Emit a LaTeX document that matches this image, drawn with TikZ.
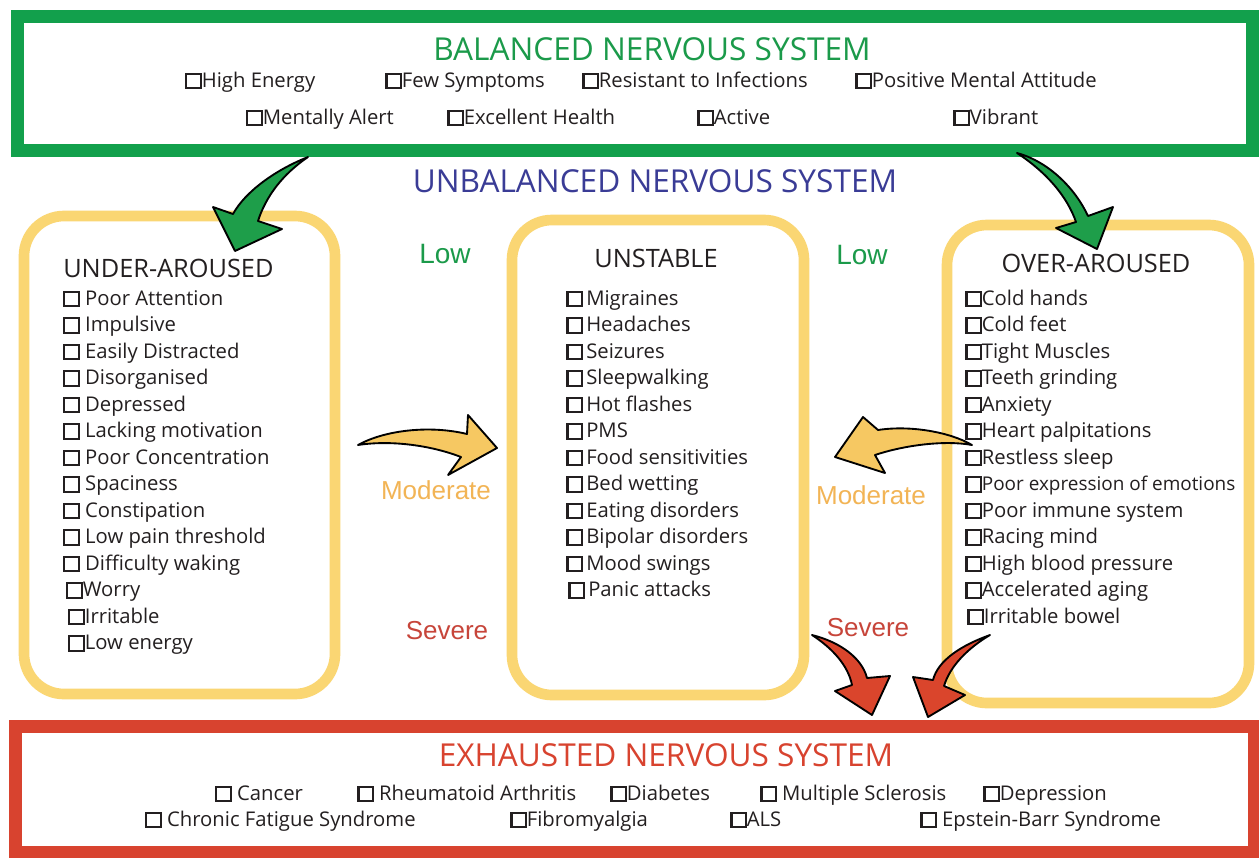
\documentclass[tikz,border=0pt]{standalone}
\usepackage{fontspec}
\setmainfont{Open Sans}
\newfontfamily\arialf{Liberation Sans}
\definecolor{gframe}{HTML}{12A04C}
\definecolor{gtext}{HTML}{1B9A4A}
\definecolor{btext}{HTML}{3A3C96}
\definecolor{yline}{HTML}{FAD673}
\definecolor{yfill}{HTML}{F6C862}
\definecolor{otext}{HTML}{F2B455}
\definecolor{rframe}{HTML}{D8432F}
\definecolor{rtext}{HTML}{C7453A}
\definecolor{rfill}{HTML}{DA452C}
\definecolor{gfill}{HTML}{1E9E4A}
\definecolor{ink}{HTML}{231F20}
\newcommand{\cbx}{{\fboxsep=0pt\fboxrule=0.11em\fbox{\rule{0pt}{0.6em}\hspace{0.6em}}}}
\tikzset{
  itm/.style={anchor=base west, inner sep=0pt, text=ink, font=\fontsize{15.2}{18}\selectfont},
  bigtitle/.style={anchor=base, inner sep=0pt, font=\fontsize{23.7}{27}\selectfont},
  boxtitle/.style={anchor=base, inner sep=0pt, text=ink, font=\fontsize{19}{22}\selectfont},
  lvl/.style={anchor=base, inner sep=0pt, font=\arialf\fontsize{19.5}{22}\selectfont},
  gfr/.style={draw=gframe, line width=9.75pt},
  rfr/.style={draw=rframe, line width=9.75pt},
  ybox/.style={draw=yline, line width=8pt, rounded corners=30pt},
  blockarrow/.style={draw=black, line width=1.4pt, line join=round},
}
\begin{document}
\begin{tikzpicture}[x=0.75pt,y=-0.75pt]
\useasboundingbox (0,0) rectangle (1259,857);
\fill[white] (0,0) rectangle (1259,857);
% frames
\draw[gfr] (17,16) rectangle (1252,150);
\draw[rfr] (15,726) rectangle (1254,852);
\draw[ybox] (24,216) rectangle (335,694);
\draw[ybox] (512,220) rectangle (804,695);
\draw[ybox] (947,225) rectangle (1249,703);

% titles
\node[bigtitle, text=gtext] (bal) at (652,60) {BALANCED NERVOUS SYSTEM};
\node[bigtitle, text=btext] (unbal) at (655,192) {UNBALANCED NERVOUS SYSTEM};
\node[bigtitle, text=rframe] (exh) at (666,766) {EXHAUSTED NERVOUS SYSTEM};

% balanced items
\node[itm] (b1) at (185,87) {\cbx High Energy};
\node[itm] (b2) at (385,87) {\cbx Few Symptoms};
\node[itm] (b3) at (582,87) {\cbx Resistant to Infections};
\node[itm] (b4) at (855,87) {\cbx Positive Mental Attitude};
\node[itm] (b5) at (246,124) {\cbx Mentally Alert};
\node[itm] (b6) at (447,124) {\cbx Excellent Health};
\node[itm] (b7) at (697,124) {\cbx Active};
\node[itm] (b8) at (953,124) {\cbx Vibrant};

% box titles
\node[boxtitle, anchor=base west] (under) at (63,277) {UNDER-AROUSED};
\node[boxtitle] (unst) at (656,267) {UNSTABLE};
\node[boxtitle] (over) at (1096,272) {OVER-AROUSED};

% under-aroused items
\foreach \x/\t [count=\i] in {63/\ Poor Attention, 63/\ Impulsive, 63/\ Easily Distracted, 63/\ Disorganised, 63/\ Depressed, 63/\ Lacking motivation, 63/\ Poor Concentration, 63/\ Spaciness, 63/\ Constipation, 63/\ Low pain threshold, 63/\ Difficulty waking, 66/Worry, 68/Irritable, 68/Low energy}
  \node[itm] (u\i) at (\x,{305+26.5*(\i-1)}) {\cbx\t};

% unstable items
\foreach \x/\t [count=\i] in {566/Migraines, 566/Headaches, 566/Seizures, 566/Sleepwalking, 566/Hot flashes, 566/PMS, 566/Food sensitivities, 566/Bed wetting, 566/Eating disorders, 566/Bipolar disorders, 566/Mood swings, 568/Panic attacks}
  \node[itm] (s\i) at (\x,{305+26.5*(\i-1)}) {\cbx\,\t};

% over-aroused items
\foreach \x/\t [count=\i] in {965/Cold hands, 965/Cold feet, 965/Tight Muscles, 965/Teeth grinding, 965/Anxiety, 965/Heart palpitations, 965/Restless sleep, 965/{\fontsize{14.2}{18}\selectfont Poor expression of emotions}, 965/Poor immune system, 965/Racing mind, 965/High blood pressure, 965/Accelerated aging, 967/Irritable bowel}
  \node[itm] (o\i) at (\x,{305+26.5*(\i-1)}) {\cbx\t};

% exhausted items
\node[itm] (e1) at (215,800) {\cbx\ Cancer};
\node[itm] (e2) at (357,800) {\cbx\ Rheumatoid Arthritis};
\node[itm] (e3) at (610,800) {\cbx Diabetes};
\node[itm] (e4) at (760,800) {\cbx\ Multiple Sclerosis};
\node[itm] (e5) at (983,800) {\cbx Depression};
\node[itm] (e6) at (145,826) {\cbx\ Chronic Fatigue Syndrome};
\node[itm] (e7) at (510,826) {\cbx Fibromyalgia};
\node[itm] (e8) at (730,826) {\cbx ALS};
\node[itm] (e9) at (920,826) {\cbx\ Epstein-Barr Syndrome};

% level labels
\node[lvl, text=gtext, font=\arialf\fontsize{21}{24}\selectfont] (low1) at (445,263) {Low};
\node[lvl, text=gtext, font=\arialf\fontsize{21}{24}\selectfont] (low2) at (862,264) {Low};
\node[lvl, text=otext] (mod1) at (436,499) {Moderate};
\node[lvl, text=otext] (mod2) at (871,504) {Moderate};
\node[lvl, text=rtext] (sev1) at (447,639) {Severe};
\node[lvl, text=rtext] (sev2) at (868,636) {Severe};

% green arrows
\filldraw[blockarrow, fill=gfill] (308,157) .. controls (275,170) and (245,192) .. (233,214)
  -- (213,207) -- (235,251) -- (282,229) -- (258,221)
  .. controls (266,196) and (283,174) .. (308,157) -- cycle;
\filldraw[blockarrow, fill=gfill] (1017,153) .. controls (1050,162) and (1076,190) .. (1088,216)
  -- (1113,207) -- (1097,249) -- (1056,228) -- (1076,222)
  .. controls (1067,196) and (1046,172) .. (1017,153) -- cycle;
% yellow arrows
\filldraw[blockarrow, fill=yfill] (358,445) .. controls (385,430) and (430,425) .. (467,434)
  -- (468,415) -- (497,448) -- (448,475) -- (461,457)
  .. controls (430,445) and (390,440) .. (358,445) -- cycle;
\filldraw[blockarrow, fill=yfill] (972,445) .. controls (950,432) and (910,425) .. (878,430)
  -- (863,417) -- (835,457) -- (885,473) -- (875,455)
  .. controls (905,445) and (945,440) .. (972,445) -- cycle;
% red arrows
\filldraw[blockarrow, fill=rfill] (812,635) .. controls (840,642) and (862,658) .. (867,678)
  -- (890,676) -- (872,715) -- (835,691) -- (852,685)
  .. controls (848,665) and (832,648) .. (812,635) -- cycle;
\filldraw[blockarrow, fill=rfill] (990,635) .. controls (962,645) and (938,660) .. (933,680)
  -- (913,677) -- (928,717) -- (965,695) -- (944,686)
  .. controls (950,666) and (968,648) .. (990,635) -- cycle;
\end{tikzpicture}
\end{document}
